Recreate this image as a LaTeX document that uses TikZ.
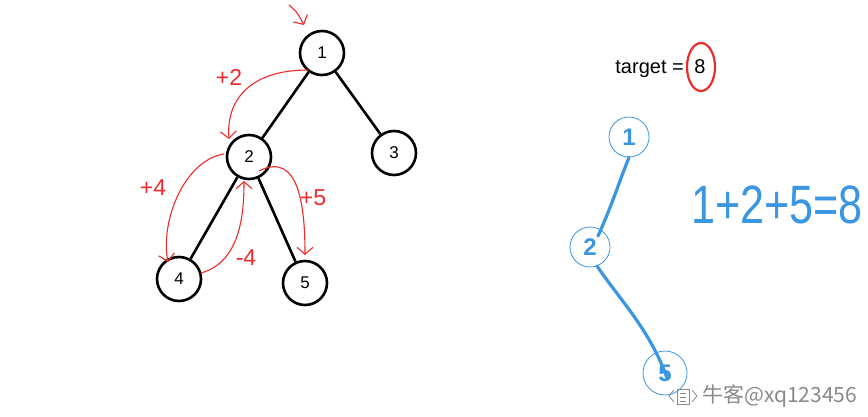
\documentclass[tikz,border=0pt]{standalone}
\usepackage{fontspec}
\setmainfont{Liberation Sans}
\newfontfamily\cjkfont{Noto Sans CJK SC}
\usetikzlibrary{arrows.meta}
\definecolor{hred}{HTML}{EE2B2B}
\definecolor{hblue}{HTML}{3A96E0}
\definecolor{wgray}{HTML}{8A8A8A}
\tikzset{
  tnode/.style={circle, draw=black, line width=2.6pt, minimum size=44pt, inner sep=0pt, font=\fontsize{17}{17}\selectfont},
  tedge/.style={line width=2.6pt, black},
  redarrow/.style={hred, line width=1.1pt, line cap=round, -{Straight Barb[length=7pt,width=16pt,line width=1.1pt]}},
  redlabel/.style={hred, font=\fontsize{23}{23}\selectfont, inner sep=0pt},
  bnode/.style={circle, draw=hblue, line width=0.8pt, minimum size=40pt, inner sep=0pt, text=hblue, font=\fontsize{24}{24}\selectfont\bfseries},
  bline/.style={hblue, line width=3.2pt, line cap=round, line join=round},
}
\begin{document}
\begin{tikzpicture}[x=1pt,y=-1pt]
\useasboundingbox (0,0) rectangle (868,417);
\fill[white] (0,0) rectangle (868,417);
% black tree
\node[tnode] (n1) at (322,53) {1};
\node[tnode] (n2) at (249,157) {2};
\node[tnode] (n3) at (394,153) {3};
\node[tnode] (n4) at (179,279) {4};
\node[tnode] (n5) at (305,283) {5};
\draw[tedge] (n1) -- (n2);
\draw[tedge] (n1) -- (n3);
\draw[tedge] (n2) -- (n4);
\draw[tedge] (n2) -- (n5);
% red annotations
\coordinate (s0) at (289,5);
\coordinate (e0) at (304,25);
\draw[redarrow] (s0) .. controls (297,12) .. (e0);
\coordinate (s1) at (308,70);
\coordinate (e1) at (229,139);
\draw[redarrow] (s1) .. controls (250,70) and (226,100) .. (e1);
\coordinate (s2) at (224,154);
\coordinate (e2) at (168,262);
\draw[redarrow] (s2) .. controls (185,160) and (160,220) .. (e2);
\coordinate (s3) at (201,273);
\coordinate (e3) at (244,181);
\draw[redarrow] (s3) .. controls (240,262) and (244,215) .. (e3);
\coordinate (s4) at (259,171);
\coordinate (e4) at (305,255);
\draw[redarrow] (s4) .. controls (300,150) and (305,210) .. (e4);
\node[redlabel] (l2) at (229,77) {+2};
\node[redlabel] (l4) at (153,188) {+4};
\node[redlabel] (lm4) at (246,258) {-4};
\node[redlabel] (l5) at (313,198) {+5};
% target
\node[anchor=base east, font=\fontsize{20}{20}\selectfont, inner sep=0pt] (tg) at (684,74) {target =};
\node[anchor=base, font=\fontsize{20}{20}\selectfont, inner sep=0pt] (t8) at (700,74) {8};
\draw[hred, line width=2.2pt] (701,67) ellipse [x radius=14, y radius=24];
% blue sketch
\node[bnode] (b1) at (629,137) {1};
\node[bnode] (b2) at (590,247) {2};
\node[bnode, minimum size=44pt] (b5) at (665,373) {5};
\draw[bline] (b1.south) .. controls (618,185) and (612,205) .. (598,236);
\draw[bline] (597,266) .. controls (620,300) and (650,330) .. (667,378);
\node[text=hblue, font=\fontsize{54}{54}\selectfont, xscale=0.8, inner sep=0pt] (eq) at (777,205) {1+2+5=8};
% watermark
\node[text=wgray, font=\cjkfont\fontsize{21}{21}\selectfont, anchor=west, inner sep=0pt] (wm) at (702,396) {牛客@xq123456};
\draw[wgray, line width=0.8pt] (674,390) -- (669,396) -- (674,402);
\draw[wgray, line width=0.8pt] (692,390) -- (697,396) -- (692,402);
\draw[wgray, line width=0.8pt] (677,389) rectangle (689,404);
\draw[wgray, line width=0.6pt] (680,393) -- (686,393) (680,397) -- (686,397) (680,401) -- (686,401);
\end{tikzpicture}
\end{document}
